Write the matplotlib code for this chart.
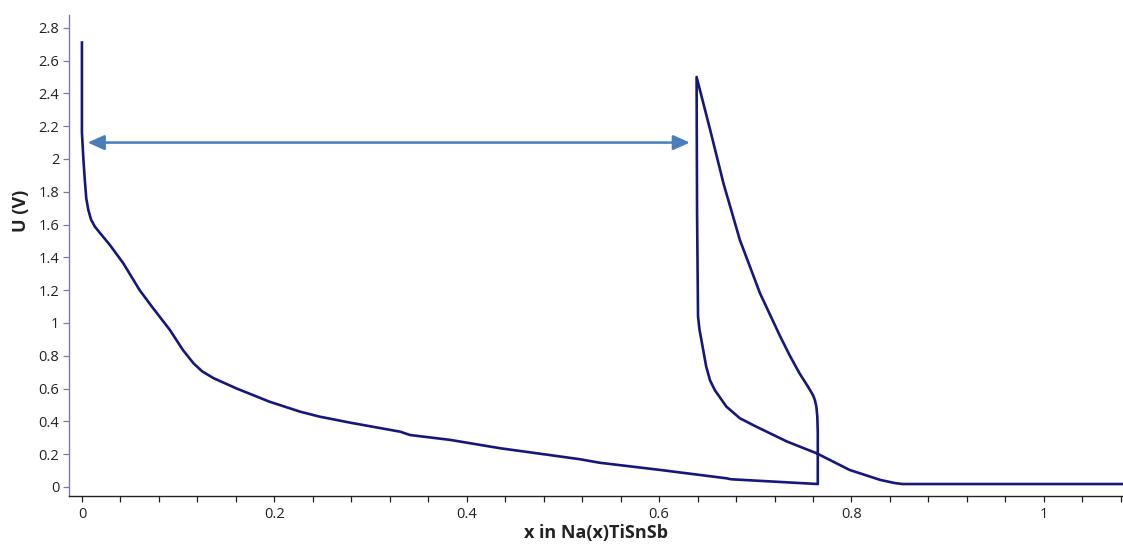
import numpy as np
import matplotlib.pyplot as plt
from matplotlib.ticker import MultipleLocator, FormatStrFormatter

# first discharge: Na uptake from x=0 down to the cut-off
discharge1_x = [0.0, 0.0, 0.0015, 0.003, 0.0045, 0.0066, 0.0095, 0.0135, 0.020, 0.029,
                0.043, 0.060, 0.074, 0.0915, 0.105, 0.116, 0.125, 0.137, 0.161, 0.195,
                0.227, 0.247, 0.279, 0.331, 0.341, 0.383, 0.435, 0.486, 0.518, 0.538,
                0.601, 0.670, 0.675, 0.765]
discharge1_y = [2.71, 2.16, 2.00, 1.87, 1.76, 1.69, 1.63, 1.587, 1.54, 1.476,
                1.364, 1.20, 1.09, 0.957, 0.835, 0.754, 0.705, 0.663, 0.60, 0.52,
                0.459, 0.429, 0.392, 0.337, 0.317, 0.287, 0.236, 0.195, 0.169, 0.148,
                0.104, 0.053, 0.047, 0.018]

# charge: back up to the peak
charge_x = [0.765, 0.765, 0.7645, 0.7635, 0.762, 0.760, 0.755, 0.746, 0.736, 0.726,
            0.705, 0.684, 0.667, 0.653, 0.639]
charge_y = [0.018, 0.33, 0.43, 0.49, 0.53, 0.56, 0.61, 0.693, 0.80, 0.917,
            1.18, 1.506, 1.85, 2.18, 2.50]

# second discharge
discharge2_x = [0.639, 0.6392, 0.6395, 0.6405, 0.6420, 0.644, 0.649, 0.653, 0.658, 0.670,
                0.684, 0.701, 0.733, 0.764, 0.798, 0.830, 0.845, 0.853, 1.085]
discharge2_y = [2.50, 2.15, 1.67, 1.04, 0.96, 0.896, 0.734, 0.65, 0.59, 0.49,
                0.419, 0.368, 0.277, 0.205, 0.104, 0.043, 0.024, 0.018, 0.018]

# double arrow marking the first-cycle capacity
arrow_x = [0.006, 0.632]
arrow_y = 2.10

x_all = discharge1_x + charge_x + discharge2_x
y_all = discharge1_y + charge_y + discharge2_y

plt.rcParams['font.family'] = ['Open Sans', 'DejaVu Sans']

fig = plt.figure(figsize=(11.23, 5.45), dpi=100)
ax = fig.add_axes([0.0614, 0.0899, 0.9386, 0.8826])

ax.plot(x_all, y_all, color='#16177a', lw=1.9, solid_joinstyle='round')

ax.annotate('', xy=(arrow_x[0], arrow_y), xytext=(arrow_x[1], arrow_y),
            arrowprops=dict(arrowstyle='<|-|>,head_length=1.0,head_width=0.45',
                            color='#4a7ebb', lw=1.8, shrinkA=0, shrinkB=0))

ax.set_xlim(-0.0135, 1.0823)
ax.set_ylim(-0.055, 2.878)

ax.xaxis.set_major_locator(MultipleLocator(0.2))
ax.xaxis.set_minor_locator(MultipleLocator(0.04))
ax.yaxis.set_major_locator(MultipleLocator(0.2))
ax.xaxis.set_major_formatter(FormatStrFormatter('%g'))
ax.yaxis.set_major_formatter(FormatStrFormatter('%g'))

for side in ['top', 'right']:
    ax.spines[side].set_visible(False)
ax.spines['left'].set_color('#7a7aa8')
ax.spines['bottom'].set_color('#222222')
ax.spines['left'].set_linewidth(1.0)
ax.spines['bottom'].set_linewidth(1.0)

ax.tick_params(axis='x', which='both', direction='out', length=4, width=0.9,
               color='#222222', labelsize=10.5, labelcolor='#222222', pad=4)
ax.tick_params(axis='y', which='major', direction='out', length=4, width=0.9,
               color='#7a7aa8', labelsize=10.5, labelcolor='#222222', pad=3)

ax.set_xlabel('x in Na(x)TiSnSb', fontsize=13, fontweight='bold', color='#222222')
ax.set_ylabel('U (V)', fontsize=13, fontweight='bold', color='#222222')
ax.xaxis.set_label_coords(0.5, -0.058)
ax.yaxis.set_label_coords(-0.037, 0.593)

fig.savefig('out.png', dpi=100)
